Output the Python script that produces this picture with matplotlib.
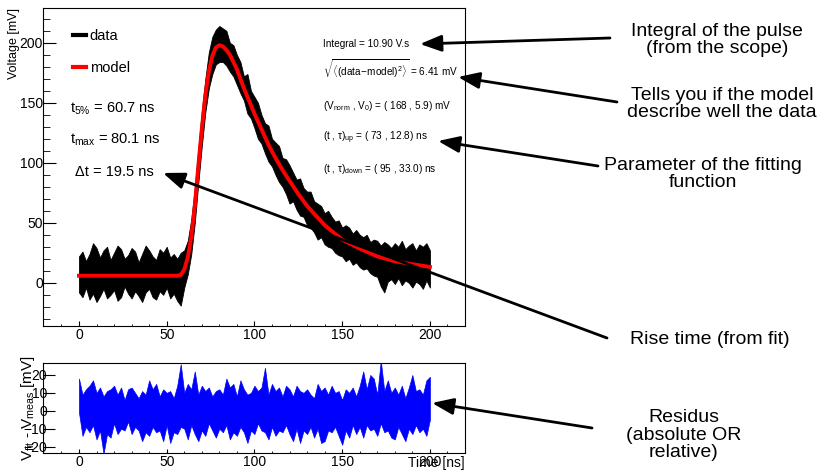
import numpy as np
import matplotlib
matplotlib.use("Agg")
import matplotlib.pyplot as plt
from matplotlib.lines import Line2D
from matplotlib.patches import FancyArrowPatch

plt.rcParams['font.family'] = ['Liberation Sans', 'DejaVu Sans']
plt.rcParams['mathtext.fontset'] = 'custom'
plt.rcParams['mathtext.rm'] = 'Liberation Sans'
plt.rcParams['mathtext.it'] = 'Liberation Sans:italic'
plt.rcParams['mathtext.bf'] = 'Liberation Sans:bold'

# sample times of the scope trace (ns)
data_t = np.arange(0, 201, 2)

# upper / lower edge of the noisy data band (mV)
data_hi = [22, 26, 18, 24, 33, 29, 21, 27, 30, 19, 25, 31, 28, 20, 23, 29, 26, 17, 24, 31,
           27, 22, 19, 28, 25, 30, 21, 24, 20, 25,
           27, 35, 53, 79, 112, 143, 170, 192, 205, 211, 214,
           212, 210, 200, 198, 190, 184, 172, 174, 160, 155, 150, 140, 133, 131, 120,
           117, 114, 104, 103, 98, 92, 86, 87, 79, 76, 76, 68, 66, 64, 58,
           60, 55, 51, 52, 46, 48, 46, 41, 44, 40, 38, 40, 34, 36, 35,
           31, 34, 32, 29, 33, 30, 35, 28, 31, 33, 27, 32, 30, 33, 27]
data_lo = [-8, -12, -4, -14, -9, -16, -11, -5, -13, -10, -6, -15, -12, -3, -9, -13, -7, -11, -16, -8,
           -5, -12, -14, -7, -10, -4, -13, -9, -15, -19,
           -4, 7, 24, 50, 83, 114, 142, 162, 174, 182, 184,
           184, 181, 176, 172, 165, 158, 152, 141, 137, 129, 120, 116, 108, 101, 97,
           90, 84, 80, 74, 66, 68, 61, 56, 55, 48, 46, 42, 36, 38, 32,
           30, 29, 25, 23, 22, 18, 20, 15, 17, 13, 11, 12, 8, 6, 5,
           -3, -8, 1, 3, -1, 4, -2, 2, 0, -4, 1, -1, -5, 2, -4]

# fitted model curve
model_t = [0, 56, 58, 60, 62, 64, 66, 68, 70, 72, 74, 76, 78, 80, 82, 84, 86, 88, 90, 92,
           94, 96, 98, 100, 104, 108, 112, 116, 120, 125, 130, 135, 140, 145, 150, 160, 170, 180, 190, 200]
model_v = [5.9, 5.9, 6.5, 11, 21, 38, 64, 97, 128, 156, 176, 189, 196, 198, 197, 194, 190, 184, 178, 170,
           162, 155, 148, 141, 128, 115, 104, 94, 85, 74, 64, 56, 48, 42, 36, 28.5, 22, 18, 15.5, 13.2]

# residual band V_fit - V_meas (mV)
resid_hi = [18, 9, 12, 14, 17, 10, 13, 8, 11, 12, 14, 9, 13, 6, 12, 13, 10, 7, 11, 9,
            17, 12, 15, 8, 12, 10, 11, 7, 14, 26, 10, 15, 12, 22, 9, 14, 11, 13, 8, 11,
            12, 9, 18, 13, 15, 8, 17, 12, 9, 10, 14, 11, 13, 24, 9, 15, 11, 13, 8, 14,
            12, 8, 14, 11, 10, 12, 9, 7, 15, 11, 13, 9, 14, 10, 11, 6, 12, 10, 13, 8,
            14, 22, 12, 20, 18, 9, 28, 11, 17, 10, 13, 9, 14, 7, 13, 20, 11, 12, 9, 17, 19]
resid_lo = [-1, -14, -9, -12, -8, -16, -11, -24, -13, -15, -7, -13, -10, -11, -6, -13, -9, -11, -17, -12,
            -14, -9, -12, -11, -17, -8, -18, -12, -13, -9, -10, -16, -8, -13, -17, -11, -14, -7, -11, -15,
            -10, -12, -8, -16, -12, -14, -9, -12, -18, -11, -13, -7, -11, -12, -16, -9, -14, -11, -12, -8,
            -13, -17, -10, -18, -11, -13, -9, -15, -10, -18, -17, -11, -12, -9, -14, -19, -11, -15, -8, -13,
            -9, -15, -8, -11, -10, -14, -7, -12, -11, -15, -16, -9, -13, -17, -10, -13, -8, -12, -10, -14, -5]

fit_lines = [
    "Integral = 10.90 V.s",
    r"$\sqrt{\langle(\mathrm{data\!-\!model})^{2}\rangle}$ = 6.41 mV",
    r"(V$_{\mathrm{norm}}$ , V$_{0}$) = ( 168 , 5.9) mV",
    r"(t , τ)$_{\mathrm{up}}$ = ( 73 , 12.8) ns",
    r"(t , τ)$_{\mathrm{down}}$ = ( 95 , 33.0) ns",
]
time_lines = [r"t$_{5\%}$ = 60.7 ns", r"t$_{\mathrm{max}}$ = 80.1 ns", "Δt = 19.5 ns"]

notes = ["Integral of the pulse\n(from the scope)",
         "Tells you if the model\ndescribe well the data",
         "Parameter of the fitting\nfunction",
         "Rise time (from fit)",
         "Residus\n(absolute OR\nrelative)"]

W, H = 823, 470
def fpx(x, y):
    return (x / W, 1 - y / H)

fig = plt.figure(figsize=(W / 100, H / 100), dpi=100)
ax = fig.add_axes([43 / W, 1 - 326 / H, 422 / W, 318 / H])
axr = fig.add_axes([43 / W, 1 - 453 / H, 422 / W, 90 / H])

def axpx(x, y):
    return ((x - 43) / 422, (326 - y) / 318)

# main panel
ax.fill_between(data_t, data_lo, data_hi, color='black', lw=0.6)
ax.plot(model_t, model_v, color='red', lw=2.8)
ax.set_xlim(-20.5, 220)
ax.set_ylim(-36, 229)
ax.set_xticks([0, 50, 100, 150, 200])
ax.set_xticks(np.arange(-10, 220, 10), minor=True)
ax.set_yticks([0, 50, 100, 150, 200])
ax.set_yticks(np.arange(-30, 225, 10), minor=True)
ax.tick_params(which='both', direction='in', top=False, right=False)
ax.tick_params(axis='y', which='major', length=9.5, labelsize=10, pad=0)
ax.tick_params(axis='y', which='minor', length=4.8)
ax.tick_params(axis='x', which='major', length=3.6, labelsize=10, pad=1.5)
ax.tick_params(axis='x', which='minor', length=1.8)
ax.set_ylabel('Voltage [mV]', loc='top', fontsize=9)
ax.yaxis.set_label_coords(-0.054, 1.0)

handles = [Line2D([], [], color='black', lw=3), Line2D([], [], color='red', lw=3)]
ax.legend(handles, ['data', 'model'], loc='upper left', bbox_to_anchor=axpx(73, 29),
          frameon=False, fontsize=10.5, handlelength=0.9, handletextpad=0.25,
          labelspacing=1.25, borderpad=0, borderaxespad=0)

for txt, (x, y) in zip(time_lines, [(70, 113), (70, 144), (75, 175.5)]):
    ax.text(*axpx(x, y), txt, transform=ax.transAxes, fontsize=10.5, va='baseline')
for txt, y in zip(fit_lines, [47, 77, 109, 140.5, 171.5]):
    ax.text(*axpx(323, y), txt, transform=ax.transAxes, fontsize=7.2, va='baseline')

# residual panel
axr.fill_between(data_t, resid_lo, resid_hi, color='#0000ff', lw=0.5)
axr.set_xlim(-20.5, 220)
axr.set_ylim(-23.6, 26.7)
axr.set_xticks([0, 50, 100, 150, 200])
axr.set_xticks(np.arange(-10, 220, 10), minor=True)
axr.set_yticks([-20, -10, 0, 10, 20])
axr.tick_params(which='both', direction='in', top=False, right=False)
axr.tick_params(axis='y', which='major', length=8.6, labelsize=10, pad=-3)
axr.tick_params(axis='x', which='major', length=3, labelsize=10, pad=1.5)
axr.tick_params(axis='x', which='minor', length=1.5)
axr.set_ylabel(r"V$_{\mathrm{fit}}$ - V$_{\mathrm{meas}}$ [mV]", fontsize=11)
axr.yaxis.set_label_coords(-0.014, 0.5)
axr.set_xlabel('Time [ns]', loc='right', fontsize=10)
axr.xaxis.set_label_coords(1.0, -0.03)

for a in (ax, axr):
    for s in a.spines.values():
        s.set_linewidth(0.8)

# notes and arrows on the right
note_pos = [(717, 40), (722, 104), (703, 174), (710, 339), (684, 435)]
for txt, (x, y) in zip(notes, note_pos):
    fig.text(*fpx(x, y), txt, fontsize=14, ha='center', va='center', linespacing=1.05)

arrows = [((610, 38), (420, 44)), ((617, 102), (458, 77)), ((598, 166), (438, 141)),
          ((607, 338), (163, 173)), ((592, 428), (432, 403))]
for tail, tip in arrows:
    fig.add_artist(FancyArrowPatch(fpx(*tail), fpx(*tip), transform=fig.transFigure,
                                   arrowstyle='-|>,head_length=0.65,head_width=0.25',
                                   mutation_scale=20, lw=2, color='black',
                                   shrinkA=0, shrinkB=0, zorder=5))

fig.savefig('out.png', dpi=100)
